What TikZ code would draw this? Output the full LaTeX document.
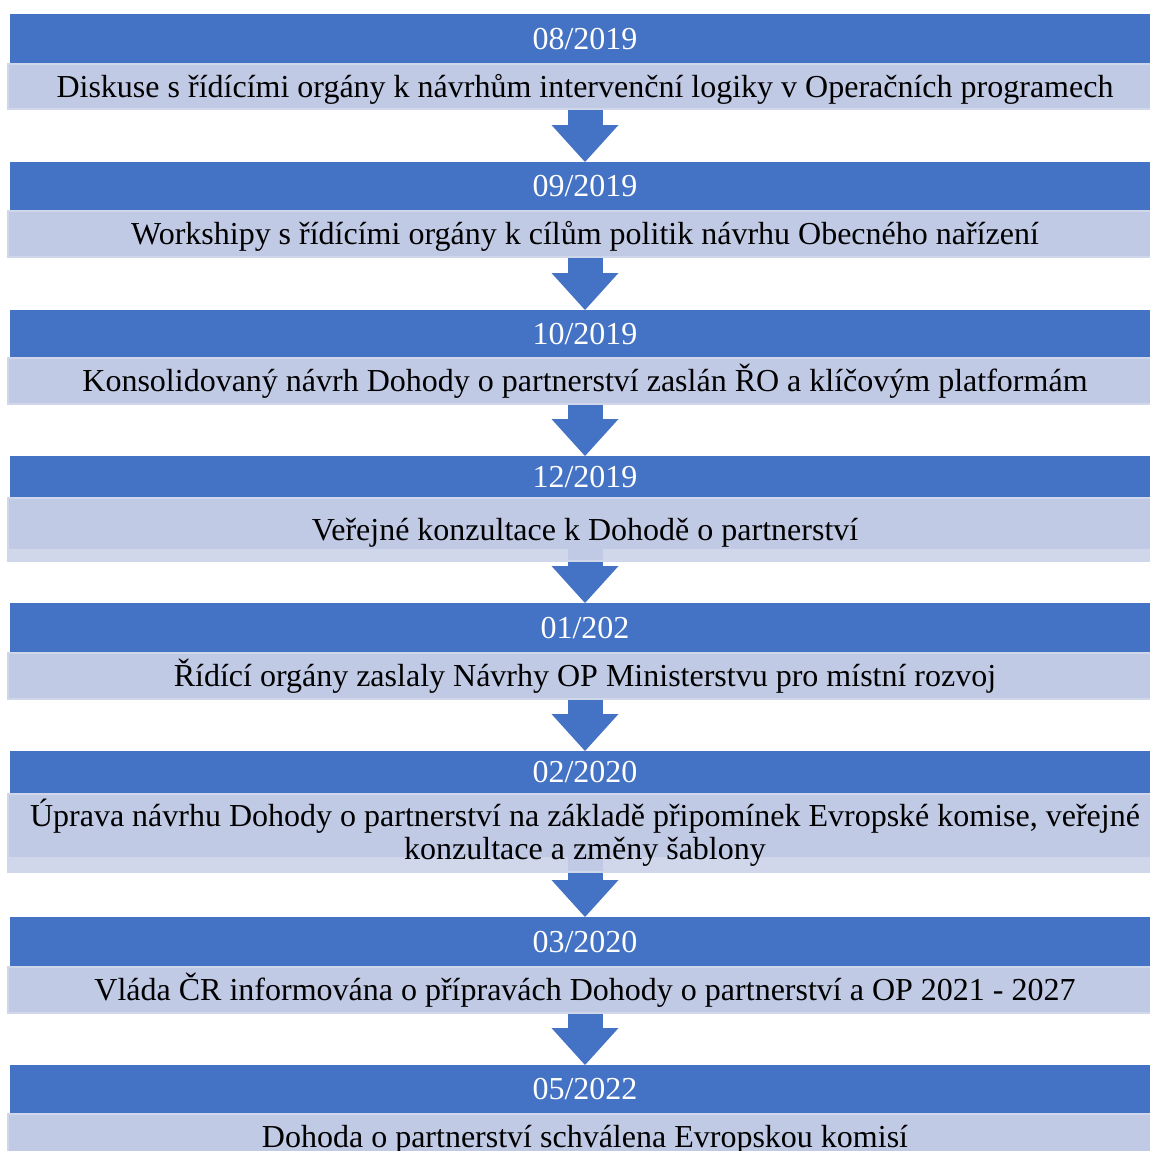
\documentclass[tikz,border=0pt]{standalone}
\usepackage{fontspec}
\setmainfont{Liberation Serif}
\usetikzlibrary{positioning,arrows.meta,calc}
\definecolor{barblue}{RGB}{68,114,196}
\definecolor{notefill}{RGB}{193,202,229}
\definecolor{noteedge}{RGB}{208,215,235}

\begin{document}
\begin{tikzpicture}[x=1pt,y=1pt,node distance=52pt,
    every node/.style={outer sep=0pt,inner sep=0pt,font=\fontsize{32}{33}\selectfont},
    date node/.style={rectangle,fill=barblue,text=white,minimum width=1150pt,text height=28pt,text depth=7pt},
    note box/.style={rectangle,fill=notefill,draw=noteedge,line width=2pt,outer sep=1pt,minimum width=1154pt,align=center},
    note node/.style={note box,text height=28pt,text depth=7pt},
    low band/.style={path picture={
      \fill[noteedge] (path picture bounding box.south west) rectangle ([yshift=#1]path picture bounding box.south east);
      \fill[notefill] ([xshift=-17.5pt]path picture bounding box.south) rectangle ([xshift=17.5pt,yshift=#1]path picture bounding box.south);}},
    flow/.style={draw=barblue,line width=35pt,-{Triangle[width=67pt,length=37pt,line width=0pt]}}]

\useasboundingbox (0,0) rectangle (1149,-1151);

\node[date node,minimum height=49pt] (d1) at (585,-38.5) {08/2019};
\node[note node,minimum height=45pt] (t1) [below=0pt of d1] {Diskuse s řídícími orgány k návrhům intervenční logiky v Operačních programech};

\node[date node,minimum height=48pt] (d2) [below=of t1] {09/2019};
\node[note node,minimum height=46pt] (t2) [below=0pt of d2] {Workshipy s řídícími orgány k cílům politik návrhu Obecného nařízení};

\node[date node,minimum height=47pt] (d3) [below=of t2] {10/2019};
\node[note node,minimum height=46pt] (t3) [below=0pt of d3] {Konsolidovaný návrh Dohody o partnerství zaslán ŘO a klíčovým platformám};

\node[date node,minimum height=41pt] (d4) [below=51pt of t3] {12/2019};
\node[note node,minimum height=63pt,low band=12pt] (t4) [below=0pt of d4] {Veřejné konzultace k Dohodě o partnerství};

\node[date node,minimum height=49pt] (d5) [below=41pt of t4] {01/202};
\node[note node,minimum height=46pt] (t5) [below=0pt of d5] {Řídící orgány zaslaly Návrhy OP Ministerstvu pro místní rozvoj};

\node[date node,minimum height=42pt] (d6) [below=51pt of t5] {02/2020};
\node[note box,minimum height=78pt,low band=15pt] (t6) [below=0pt of d6] {Úprava návrhu Dohody o partnerství na základě připomínek Evropské komise, veřejné\\ konzultace a změny šablony};

\node[date node,minimum height=49pt] (d7) [below=44pt of t6] {03/2020};
\node[note node,minimum height=46pt] (t7) [below=0pt of d7] {Vláda ČR informována o přípravách Dohody o partnerství a OP 2021 - 2027};

\node[date node,minimum height=48pt] (d8) [below=51pt of t7] {05/2022};
\node[note node,minimum height=46pt] (t8) [below=0pt of d8] {Dohoda o partnerství schválena Evropskou komisí};

\draw[flow] (t1.south) -- (d2.north);
\draw[flow] (t2.south) -- (d3.north);
\draw[flow] (t3.south) -- (d4.north);
\draw[flow] (t4.south) -- (d5.north);
\draw[flow] (t5.south) -- (d6.north);
\draw[flow] (t6.south) -- (d7.north);
\draw[flow] (t7.south) -- (d8.north);
\end{tikzpicture}
\end{document}
